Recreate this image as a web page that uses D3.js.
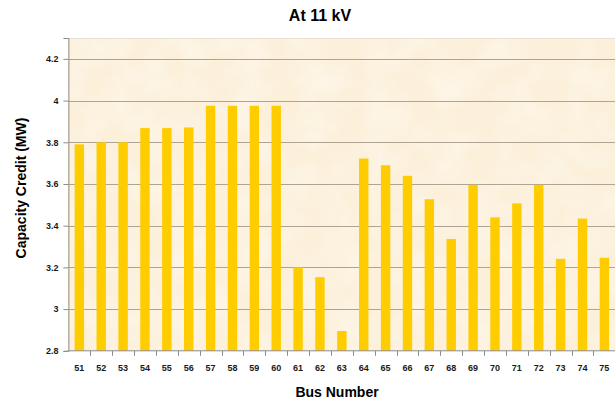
<!DOCTYPE html>
<html>
<head>
<meta charset="utf-8">
<script src="https://cdn.jsdelivr.net/npm/d3@7"></script>
<style>
  html, body { margin: 0; padding: 0; background: #ffffff; }
  svg { display: block; font-family: "Liberation Sans", Arial, sans-serif; }
</style>
</head>
<body>
<svg id="chart" width="615" height="403"></svg>
<script>
// Capacity credit per bus at 11 kV
const buses = ["51","52","53","54","55","56","57","58","59","60","61","62","63",
               "64","65","66","67","68","69","70","71","72","73","74","75"];
const capacityCredit = [3.79, 3.80, 3.80, 3.868, 3.868, 3.871, 3.975, 3.975, 3.975, 3.975,
                        3.20, 3.153, 2.895, 3.722, 3.69, 3.639, 3.527, 3.336, 3.596, 3.44,
                        3.507, 3.596, 3.241, 3.434, 3.246];
const yTicks = [2.8, 3, 3.2, 3.4, 3.6, 3.8, 4, 4.2];
const yDomain = [2.8, 4.3];

const svg = d3.select("#chart");
const plot = { left: 68.4, right: 615.3, top: 38, bottom: 350.8 };

const x = d3.scaleBand().domain(buses).range([plot.left, plot.right]).paddingInner(0.57).paddingOuter(0.285);
const xBand = d3.scaleBand().domain(buses).range([plot.left, plot.right]);
const y = d3.scaleLinear().domain(yDomain).range([plot.bottom, plot.top]);

// parchment-style plot background: light base with a faint mottled overlay
const defs = svg.append("defs");
const f = defs.append("filter").attr("id", "paper").attr("x", 0).attr("y", 0).attr("width", 1).attr("height", 1);
f.append("feTurbulence").attr("type", "fractalNoise").attr("baseFrequency", 0.03).attr("numOctaves", 3).attr("seed", 4).attr("result", "noise");
f.append("feColorMatrix").attr("in", "noise").attr("type", "matrix")
  .attr("values", "0 0 0 0 1  0 0 0 0 1  0 0 0 0 1  0 0 0 0.6 -0.2").attr("result", "tint");
f.append("feComposite").attr("in", "tint").attr("in2", "SourceGraphic").attr("operator", "atop");

svg.append("rect")
  .attr("x", plot.left).attr("y", plot.top)
  .attr("width", plot.right - plot.left).attr("height", plot.bottom - plot.top)
  .attr("fill", "#fcf0da");
svg.append("rect")
  .attr("x", plot.left).attr("y", plot.top)
  .attr("width", plot.right - plot.left).attr("height", plot.bottom - plot.top)
  .attr("fill", "#fcf0da").attr("filter", "url(#paper)");

// top border of plot area
svg.append("line")
  .attr("x1", plot.left).attr("x2", plot.right).attr("y1", plot.top + 0.5).attr("y2", plot.top + 0.5)
  .attr("stroke", "#e8e0d4").attr("stroke-width", 1);

// horizontal gridlines
svg.append("g").selectAll("line")
  .data(yTicks.filter(t => t > yDomain[0]))
  .join("line")
  .attr("x1", plot.left).attr("x2", plot.right)
  .attr("y1", d => Math.round(y(d)) + 0.5).attr("y2", d => Math.round(y(d)) + 0.5)
  .attr("stroke", "#ada496").attr("stroke-width", 1);

// bars
svg.append("g").selectAll("rect")
  .data(buses.map((b, i) => ({ bus: b, value: capacityCredit[i] })))
  .join("rect")
  .attr("x", d => x(d.bus))
  .attr("width", x.bandwidth())
  .attr("y", d => y(d.value))
  .attr("height", d => plot.bottom - y(d.value))
  .attr("fill", "#ffcc00");

// y axis
const yAxis = svg.append("g")
  .attr("transform", `translate(${plot.left},0)`)
  .call(d3.axisLeft(y).tickValues(yTicks).tickFormat(d3.format("")).tickSize(5).tickPadding(5));
yAxis.select(".domain").attr("stroke", "#8c8c8c");
yAxis.selectAll(".tick line").attr("stroke", "#8c8c8c");
yAxis.selectAll(".tick text")
  .attr("font-size", "9px").attr("font-weight", "bold").attr("fill", "#1a1a1a")
  .attr("font-family", "'Liberation Sans', Arial, sans-serif");

// x axis: ticks at category boundaries
const xAxis = svg.append("g").attr("transform", `translate(0,${plot.bottom})`);
xAxis.append("line")
  .attr("x1", plot.left).attr("x2", plot.right).attr("y1", 0).attr("y2", 0)
  .attr("stroke", "#8c8c8c");
xAxis.selectAll(".bnd")
  .data(buses.slice(1))
  .join("line")
  .attr("class", "bnd")
  .attr("x1", d => Math.round(xBand(d)) + 0.5).attr("x2", d => Math.round(xBand(d)) + 0.5)
  .attr("y1", 0).attr("y2", 5)
  .attr("stroke", "#8c8c8c");
xAxis.selectAll("text")
  .data(buses)
  .join("text")
  .attr("x", d => xBand(d) + xBand.bandwidth() / 2)
  .attr("y", 20)
  .attr("text-anchor", "middle")
  .attr("font-size", "9px").attr("font-weight", "bold").attr("fill", "#1a1a1a")
  .text(d => d);

// titles
svg.append("text")
  .attr("x", 320).attr("y", 21)
  .attr("text-anchor", "middle")
  .attr("font-size", "16px").attr("font-weight", "bold").attr("fill", "#000")
  .text("At 11 kV");

svg.append("text")
  .attr("x", 337).attr("y", 397)
  .attr("text-anchor", "middle")
  .attr("font-size", "14px").attr("font-weight", "bold").attr("fill", "#000")
  .text("Bus Number");

svg.append("text")
  .attr("transform", "translate(26,188) rotate(-90)")
  .attr("text-anchor", "middle")
  .attr("font-size", "14px").attr("font-weight", "bold").attr("fill", "#000")
  .text("Capacity Credit (MW)");
</script>
</body>
</html>
